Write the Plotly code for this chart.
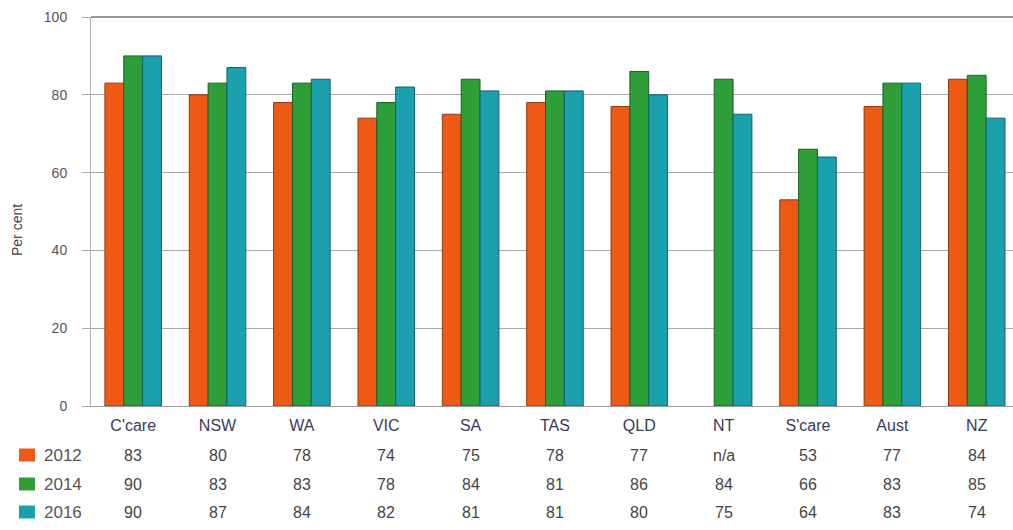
import plotly.graph_objects as go

categories = ["C'care", "NSW", "WA", "VIC", "SA", "TAS", "QLD", "NT", "S'care", "Aust", "NZ"]
series_names = ["2012", "2014", "2016"]
v2012 = [83, 80, 78, 74, 75, 78, 77, None, 53, 77, 84]
v2014 = [90, 83, 83, 78, 84, 81, 86, 84, 66, 83, 85]
v2016 = [90, 87, 84, 82, 81, 81, 80, 75, 64, 83, 74]
y_ticks = [0, 20, 40, 60, 80, 100]

colors = ["#EE5A16", "#2E9E38", "#1BA0AE"]
outlines = ["#8A3A10", "#1D5E24", "#14606A"]
values = [v2012, v2014, v2016]

W, H = 1013, 530
mt, mb, ml, mr = 17, 124, 91, 0
plot_h = H - mt - mb
plot_w = W - ml - mr
FONT = "Liberation Sans, Arial"

fig = go.Figure()
for name, vals, c, oc in zip(series_names, values, colors, outlines):
    fig.add_trace(go.Bar(
        x=categories, y=vals, name=name,
        marker=dict(color=c, line=dict(color=oc, width=1)),
        showlegend=False,
    ))

def py_to_paper(py):
    return (H - mb - py) / plot_h

def px_to_paper(px):
    return (px - ml) / plot_w

row_y = [455, 484, 512]
annotations = []
for r, (name, vals, c) in enumerate(zip(series_names, values, colors)):
    yp = py_to_paper(row_y[r])
    for cat, v in zip(categories, vals):
        annotations.append(dict(
            x=cat, y=yp, xref="x", yref="paper", showarrow=False,
            text="n/a" if v is None else str(v),
            font=dict(family=FONT, size=16, color="#444444"),
            xanchor="center", yanchor="middle",
        ))
    annotations.append(dict(
        x=px_to_paper(42), y=yp, xref="paper", yref="paper",
        showarrow=False, text=name,
        font=dict(family=FONT, size=17, color="#555555"),
        xanchor="left", yanchor="middle",
    ))

shapes = []
for r, c in enumerate(colors):
    yc = row_y[r]
    shapes.append(dict(
        type="rect", xref="paper", yref="paper",
        x0=px_to_paper(19), x1=px_to_paper(35),
        y0=py_to_paper(yc + 6.5), y1=py_to_paper(yc - 6.5),
        fillcolor=c, line=dict(color=c, width=0),
    ))

annotations.append(dict(
    x=px_to_paper(17), y=py_to_paper(230), xref="paper", yref="paper",
    showarrow=False, text="Per cent", textangle=-90,
    font=dict(family=FONT, size=14, color="#444444"),
    xanchor="center", yanchor="middle",
))

fig.update_layout(
    width=W, height=H,
    margin=dict(l=ml, r=mr, t=mt, b=mb),
    paper_bgcolor="white", plot_bgcolor="white",
    barmode="group", bargap=0.33, bargroupgap=0,
    annotations=annotations, shapes=shapes,
    font=dict(family=FONT),
)
fig.update_xaxes(
    range=[-0.5, 10.43], showgrid=False, showline=True, linecolor="#9a9a9a", linewidth=1,
    ticks="", tickfont=dict(size=16, color="#3a3a5c"), ticklabelstandoff=5,
)
fig.update_yaxes(
    range=[0, 100], tickvals=y_ticks, showgrid=True, gridcolor="#a8a8a8", gridwidth=1,
    showline=True, linecolor="#b0b0b0", linewidth=1, ticks="outside", ticklen=8,
    tickcolor="#a8a8a8", tickfont=dict(size=14, color="#555555"), ticklabelstandoff=12,
    zeroline=False, mirror=False,
)
fig.add_shape(type="line", xref="paper", yref="paper", x0=0, x1=1, y0=1, y1=1,
              line=dict(color="#999999", width=2))

fig.write_html("out.html", config={"displayModeBar": False},
               post_script="document.body.style.margin='0';")
